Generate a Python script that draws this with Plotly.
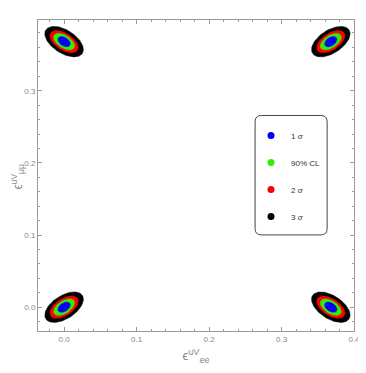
import numpy as np
import plotly.graph_objects as go

# best-fit points (eps_ee, eps_mumu) of the four degenerate solutions
center_x = [0.0, 0.368, 0.0, 0.368]
center_y = [0.0, 0.0, 0.368, 0.368]
tilt_deg = [33, -33, -33, 33]

# confidence levels, drawn from outside to inside
levels = ["3 σ", "2 σ", "90% CL", "1 σ"]
level_text = ["3 <i>σ</i>", "2 <i>σ</i>", "90% CL", "1 <i>σ</i>"]
colors = ["#000000", "#ff0000", "#33ee00", "#0000ff"]
semi_major = [0.030, 0.022, 0.0163, 0.0095]
semi_minor = [0.016, 0.0115, 0.0087, 0.0058]

t = np.linspace(0, 2 * np.pi, 120)

fig = go.Figure()
for cx, cy, ang in zip(center_x, center_y, tilt_deg):
    th = np.radians(ang)
    for a, b, col in zip(semi_major, semi_minor, colors):
        ex = cx + a * np.cos(t) * np.cos(th) - b * np.sin(t) * np.sin(th)
        ey = cy + a * np.cos(t) * np.sin(th) + b * np.sin(t) * np.cos(th)
        fig.add_trace(go.Scatter(x=ex, y=ey, mode="lines", fill="toself",
                                 fillcolor=col, line=dict(color=col, width=0.5),
                                 showlegend=False, hoverinfo="skip"))

# legend entries (1 sigma first)
for i in [3, 2, 1, 0]:
    fig.add_trace(go.Scatter(x=[None], y=[None], mode="markers",
                             marker=dict(color=colors[i], size=7),
                             name=level_text[i], legendgroup=levels[i]))

axis_common = dict(
    showline=True, linecolor="#999999", linewidth=1, mirror="allticks",
    ticks="inside", ticklen=4, tickcolor="#999999", tickwidth=1,
    showgrid=False, zeroline=False, tickformat=".1f", automargin=False,
    tickfont=dict(size=8, color="#888888", family="Liberation Sans"),
    dtick=0.1, tick0=0,
    minor=dict(ticks="inside", ticklen=2, tickcolor="#999999", dtick=0.02, tick0=0),
)

fig.update_xaxes(range=[-0.036, 0.4], **axis_common,
                 title=dict(text="ϵ<sup>uV</sup><sub>ee</sub>", standoff=8,
                            font=dict(size=13, color="#888888", family="Liberation Sans")))
fig.update_yaxes(range=[-0.033, 0.398], **axis_common)

# y title as a rotated annotation so it clears the tick labels
fig.add_annotation(text="ϵ<sup>uV</sup><sub>μμ</sub>", textangle=-90,
                   xref="paper", yref="paper", x=0, y=0.5, xshift=-21, yshift=-2,
                   xanchor="center", yanchor="middle", showarrow=False,
                   font=dict(size=12, color="#888888", family="Liberation Sans"))

# rounded legend frame
x0, x1, y0, y1 = 0.687, 0.915, 0.309, 0.693
r = 0.02
path = (f"M {x0+r},{y0} L {x1-r},{y0} Q {x1},{y0} {x1},{y0+r} "
        f"L {x1},{y1-r} Q {x1},{y1} {x1-r},{y1} L {x0+r},{y1} "
        f"Q {x0},{y1} {x0},{y1-r} L {x0},{y0+r} Q {x0},{y0} {x0+r},{y0} Z")
fig.add_shape(type="path", path=path, xref="paper", yref="paper",
              line=dict(color="#444444", width=1), fillcolor="white", layer="below")

# page body adds an 8px offset, so the figure is 8px smaller each way
fig.update_layout(
    width=358, height=365,
    margin=dict(l=30, r=12, t=12, b=42),
    plot_bgcolor="white", paper_bgcolor="white",
    legend=dict(x=0.674, y=0.675, xanchor="left", yanchor="top",
                bgcolor="rgba(0,0,0,0)", borderwidth=0,
                traceorder="grouped", tracegroupgap=8,
                font=dict(size=8, color="#333333", family="Liberation Sans")),
)

fig.write_html("out.html")
